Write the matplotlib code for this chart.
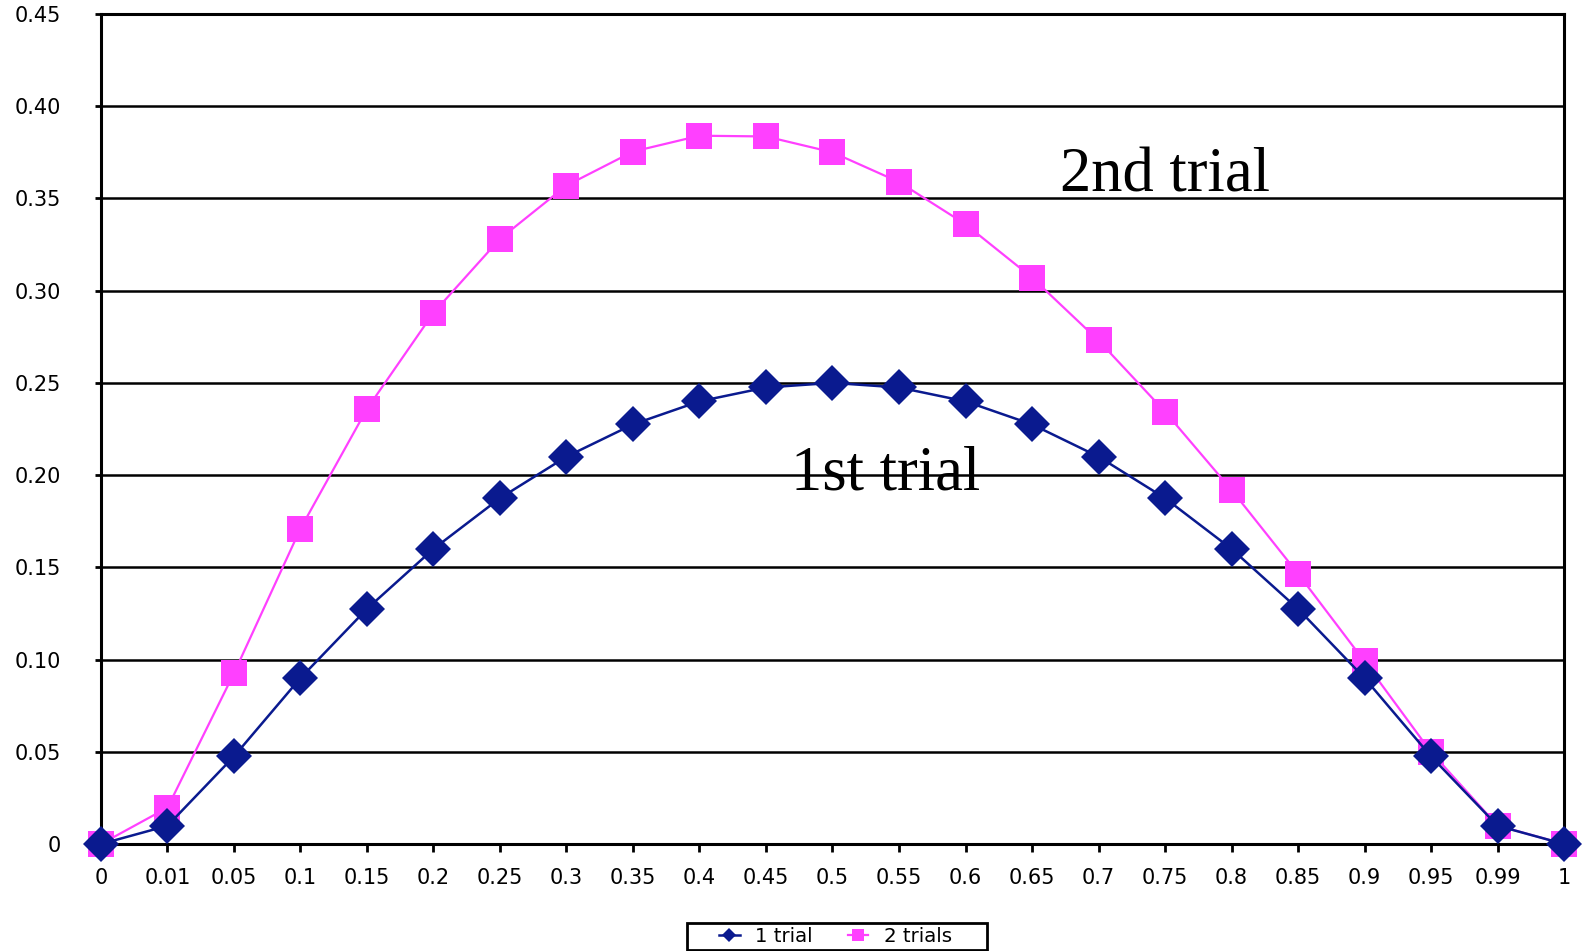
import matplotlib
matplotlib.use("Agg")
import matplotlib.pyplot as plt
from matplotlib.patches import Rectangle

# probabilities on the x axis (drawn as evenly spaced categories)
p_labels = ["0", "0.01", "0.05", "0.1", "0.15", "0.2", "0.25", "0.3", "0.35", "0.4",
            "0.45", "0.5", "0.55", "0.6", "0.65", "0.7", "0.75", "0.8", "0.85", "0.9",
            "0.95", "0.99", "1"]

one_trial = [0, 0.0099, 0.0475, 0.09, 0.1275, 0.16, 0.1875, 0.21, 0.2275, 0.24,
             0.2475, 0.25, 0.2475, 0.24, 0.2275, 0.21, 0.1875, 0.16, 0.1275, 0.09,
             0.0475, 0.0099, 0]
two_trials = [0, 0.0197, 0.0926, 0.171, 0.2359, 0.288, 0.3281, 0.357, 0.3754, 0.384,
              0.3836, 0.375, 0.3589, 0.336, 0.3071, 0.273, 0.2344, 0.192, 0.1466, 0.099,
              0.0499, 0.01, 0]

y_ticks = [0, 0.05, 0.10, 0.15, 0.20, 0.25, 0.30, 0.35, 0.40, 0.45]
y_tick_labels = ["0", "0.05", "0.10", "0.15", "0.20", "0.25", "0.30", "0.35", "0.40", "0.45"]

navy = "#0A1A8F"
pink = "#FF40FF"

fig = plt.figure(figsize=(15.83, 9.51), dpi=100)
ax = fig.add_axes([0.0638, 0.1125, 0.9242, 0.8728])

x = list(range(len(p_labels)))
ax.plot(x, two_trials, color=pink, lw=1.6, marker="s", markersize=19,
        markeredgewidth=0, label="2 trials", zorder=3, clip_on=False)
ax.plot(x, one_trial, color=navy, lw=1.8, marker="D", markersize=18,
        markeredgewidth=0, label="1 trial", zorder=4, clip_on=False)

ax.set_xlim(0, len(p_labels) - 1)
ax.set_ylim(0, 0.45)
ax.set_xticks(x)
ax.set_xticklabels(p_labels)
ax.set_yticks(y_ticks)
ax.set_yticklabels(y_tick_labels)
ax.tick_params(axis="x", direction="out", length=6, width=2, pad=11, labelsize=15)
ax.tick_params(axis="y", direction="out", length=4, width=2, pad=25, labelsize=15)

ax.yaxis.grid(True, color="black", lw=1.8)
ax.set_axisbelow(True)
for s in ax.spines.values():
    s.set_linewidth(2.2)
    s.set_color("black")

ax.text(16, 0.3620, "2nd trial", family="Liberation Serif", fontsize=45,
        ha="center", va="center")
ax.text(11.8, 0.2004, "1st trial", family="Liberation Serif", fontsize=45,
        ha="center", va="center")

# legend without its own frame; a wider box is drawn around it below
handles, labels = ax.get_legend_handles_labels()
leg = fig.legend(handles[::-1], labels[::-1], loc="center",
                 bbox_to_anchor=(0.5278, 0.0153), ncol=2, fontsize=14.2,
                 frameon=False, markerscale=0.42,
                 handlelength=1.05, columnspacing=1.75, borderpad=0,
                 handletextpad=0.8, borderaxespad=0)
fig.patches.append(Rectangle((0.434, 0.0012), 0.1895, 0.0284,
                             transform=fig.transFigure, fill=False,
                             edgecolor="black", lw=2))

fig.savefig("out.png", dpi=100)
